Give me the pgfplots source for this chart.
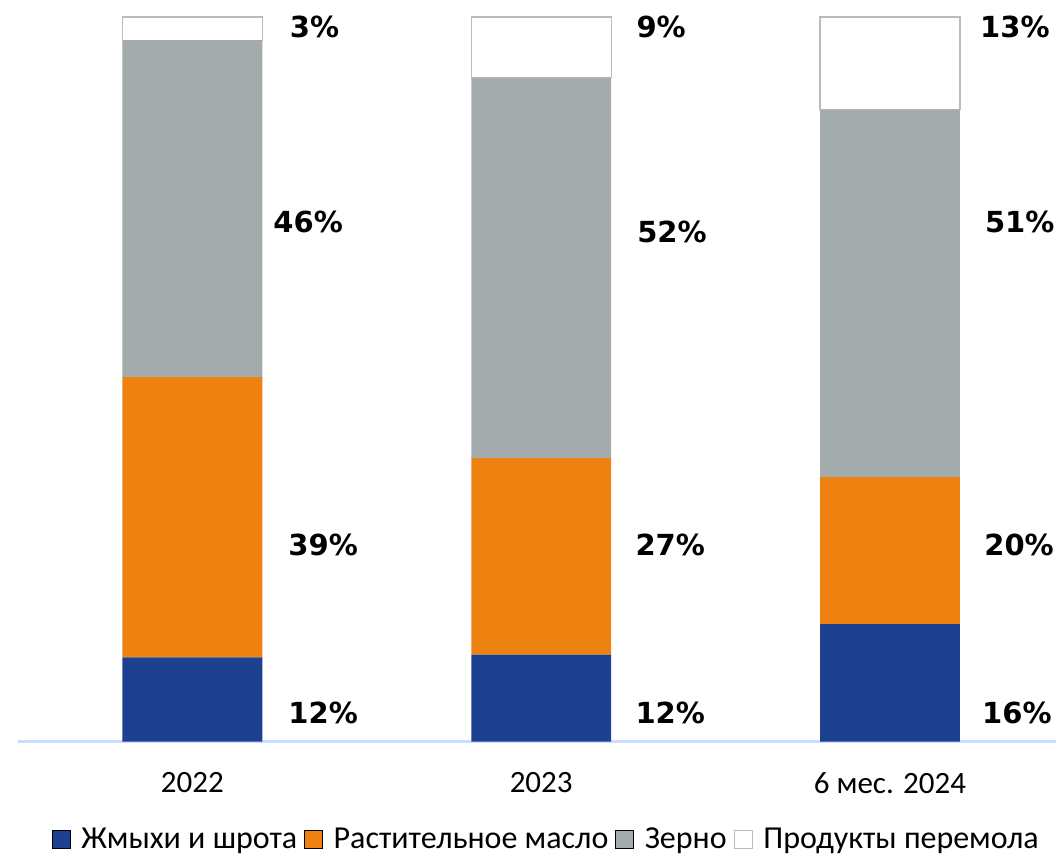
\documentclass[border=0pt]{standalone}
\usepackage{pgfplots}
\pgfplotsset{compat=1.18}
\usepackage{fontspec}
\setmainfont{Carlito}
\newfontfamily\pctfont{DejaVu Sans}
\definecolor{cBlue}{RGB}{29,64,145}
\definecolor{cOrange}{RGB}{238,130,16}
\definecolor{cGray}{RGB}{163,171,173}
\definecolor{cBorder}{RGB}{185,188,190}
\definecolor{cAxis}{RGB}{200,222,250}
\pgfplotsset{
    sq legend/.style={legend image code/.code={\draw[##1] (0pt,-4.5pt) rectangle (9pt,4.5pt);}},
}
\tikzset{pct/.style={font=\pctfont\bfseries\fontsize{14.5}{17}\selectfont}}
\begin{document}
\begin{tikzpicture}
\begin{axis}[
    width=519pt, height=362.25pt, scale only axis,
    ybar stacked, bar width=0.401,
    xmin=-0.5, xmax=2.476, ymin=0, ymax=100,
    axis y line=none, axis x line=bottom,
    x axis line style={-, draw=cAxis, line width=1.2pt},
    xtick={0,1,2}, xticklabels={2022,2023,6 мес. 2024},
    major tick length=0pt,
    xticklabel style={font=\fontsize{15.5}{18}\selectfont, yshift=-12pt},
    clip=false,
    legend columns=4,
    legend style={at={(0.508,-0.135)}, anchor=center, draw=none,
        font=\fontsize{16}{19}\selectfont, nodes={inner sep=0pt},
        /tikz/every even column/.append style={column sep=3.5pt},
        /tikz/every odd column/.append style={column sep=5.3pt}},
]
\addplot[fill=cBlue, draw=none, sq legend] coordinates {(0,11.6) (1,12.0) (2,16.2)};
\addplot[fill=cOrange, draw=none, sq legend] coordinates {(0,38.7) (1,27.1) (2,20.3)};
\addplot[fill=cGray, draw=none, sq legend] coordinates {(0,46.5) (1,52.5) (2,50.7)};
\addplot[fill=white, draw=cBorder, line width=0.6pt, sq legend] coordinates {(0,3.2) (1,8.4) (2,12.8)};
\legend{Жмыхи и шрота, Растительное масло, Зерно, Продукты перемола}

\node[pct] at (axis cs:0.350,98.6) {3\%};
\node[pct] at (axis cs:0.332,71.7) {46\%};
\node[pct] at (axis cs:0.375,27.1) {39\%};
\node[pct] at (axis cs:0.375,3.9) {12\%};
\node[pct] at (axis cs:1.344,98.6) {9\%};
\node[pct] at (axis cs:1.375,70.3) {52\%};
\node[pct] at (axis cs:1.370,27.1) {27\%};
\node[pct] at (axis cs:1.370,3.9) {12\%};
\node[pct] at (axis cs:2.358,98.6) {13\%};
\node[pct] at (axis cs:2.372,71.7) {51\%};
\node[pct] at (axis cs:2.370,27.1) {20\%};
\node[pct] at (axis cs:2.364,3.9) {16\%};

\coordinate (bl) at (rel axis cs:0,0);
\coordinate (tr) at (rel axis cs:1,1);
\end{axis}
\pgfresetboundingbox
\path ([shift={(-9pt,-58.75pt)}]bl) rectangle ([shift={(0pt,8.5pt)}]tr);
\end{tikzpicture}
\end{document}
